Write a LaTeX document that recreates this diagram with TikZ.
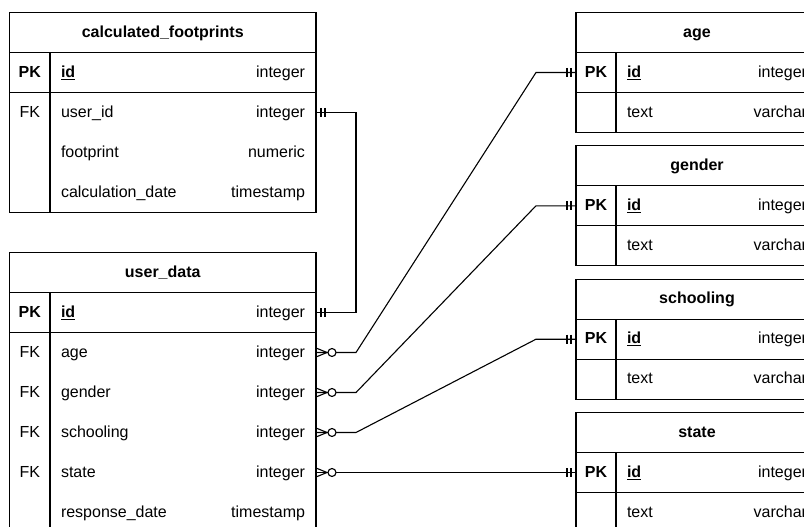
\documentclass[tikz,border=0pt]{standalone}
\usepackage{fontspec}
\setmainfont{Liberation Sans}
\usetikzlibrary{positioning}

\newcommand{\colgap}{\hspace{0pt plus 1filll}}

\tikzset{
  head/.style={draw, minimum height=40pt, inner sep=0pt, outer sep=0pt,
    text height=11pt, text depth=1.5pt, font=\fontsize{16}{18}\selectfont\bfseries},
  lhead/.style={head, minimum width=306.5pt},
  rhead/.style={head, minimum width=242pt},
  key/.style={minimum height=40pt, inner sep=0pt, outer sep=0pt,
    text height=11pt, text depth=1.5pt},
  lkey/.style={key, minimum width=40.5pt},
  rkey/.style={key, minimum width=40pt},
  field/.style={minimum height=40pt, inner ysep=0pt, inner xsep=11pt, outer sep=0pt,
    text height=11pt, text depth=1.5pt, align=left},
  lfield/.style={field, text width=244pt},
  rfield/.style={field, text width=180pt},
  mandone/.pic={\draw (5,-4.5) -- (5,4.5) (9,-4.5) -- (9,4.5);},
  zeromany/.pic={\draw (0,-4.5) -- (11,0) -- (0,4.5); \draw[fill=white] (16,0) circle (4pt);}
}

\begin{document}
\begin{tikzpicture}[x=1pt, y=-1pt, line width=1.1pt, font=\fontsize{16}{18}\selectfont]
  % Sizes
  \pgfmathsetmacro{\lx}{9.5}
  \pgfmathsetmacro{\rx}{576}
  \useasboundingbox (0,0) rectangle (804,527);
  \clip (0,0) rectangle (804,527);

  % calculated_footprints
  \node[lhead, anchor=north west] (cf) at (\lx, 12.5) {calculated\_footprints};
  \node[lkey, below right=0pt of cf.south west] (cf-k1) {\textbf{PK}};
  \node[lfield, right=0pt of cf-k1] (cf-id) {\textbf{\underline{id}}\colgap integer};
  \node[lkey, below=0pt of cf-k1] (cf-k2) {FK};
  \node[lfield, right=0pt of cf-k2] (cf-uid) {user\_id\colgap integer};
  \node[lkey, below=0pt of cf-k2] (cf-k3) {};
  \node[lfield, right=0pt of cf-k3] (cf-fp) {footprint\colgap numeric};
  \node[lkey, below=0pt of cf-k3] (cf-k4) {};
  \node[lfield, right=0pt of cf-k4] (cf-cd) {calculation\_date\colgap timestamp};
  \draw (cf.north west) rectangle (cf-cd.south east);
  \draw (cf-k1.north east) -- (cf-k4.south east);
  \draw (cf-k1.south west) -- (cf-id.south east);

  % user_data
  \node[lhead, anchor=north west] (ud) at (\lx, 252.5) {user\_data};
  \node[lkey, below right=0pt of ud.south west] (ud-k1) {\textbf{PK}};
  \node[lfield, right=0pt of ud-k1] (ud-id) {\textbf{\underline{id}}\colgap integer};
  \node[lkey, below=0pt of ud-k1] (ud-k2) {FK};
  \node[lfield, right=0pt of ud-k2] (ud-age) {age\colgap integer};
  \node[lkey, below=0pt of ud-k2] (ud-k3) {FK};
  \node[lfield, right=0pt of ud-k3] (ud-gen) {gender\colgap integer};
  \node[lkey, below=0pt of ud-k3] (ud-k4) {FK};
  \node[lfield, right=0pt of ud-k4] (ud-sch) {schooling\colgap integer};
  \node[lkey, below=0pt of ud-k4] (ud-k5) {FK};
  \node[lfield, right=0pt of ud-k5] (ud-st) {state\colgap integer};
  \node[lkey, below=0pt of ud-k5] (ud-k6) {};
  \node[lfield, right=0pt of ud-k6] (ud-rd) {response\_date\colgap timestamp};
  \draw (ud.north west) rectangle (ud-rd.south east);
  \draw (ud-k1.north east) -- (ud-k6.south east);
  \draw (ud-k1.south west) -- (ud-id.south east);

  % age
  \node[rhead, anchor=north west] (ag) at (\rx, 12.5) {age};
  \node[rkey, below right=0pt of ag.south west] (ag-k1) {\textbf{PK}};
  \node[rfield, right=0pt of ag-k1] (ag-id) {\textbf{\underline{id}}\colgap integer};
  \node[rkey, below=0pt of ag-k1] (ag-k2) {};
  \node[rfield, right=0pt of ag-k2] (ag-tx) {text\colgap varchar};
  \draw (ag.north west) rectangle (ag-tx.south east);
  \draw (ag-k1.north east) -- (ag-k2.south east);
  \draw (ag-k1.south west) -- (ag-id.south east);

  % gender
  \node[rhead, anchor=north west] (ge) at (\rx, 145.8) {gender};
  \node[rkey, below right=0pt of ge.south west] (ge-k1) {\textbf{PK}};
  \node[rfield, right=0pt of ge-k1] (ge-id) {\textbf{\underline{id}}\colgap integer};
  \node[rkey, below=0pt of ge-k1] (ge-k2) {};
  \node[rfield, right=0pt of ge-k2] (ge-tx) {text\colgap varchar};
  \draw (ge.north west) rectangle (ge-tx.south east);
  \draw (ge-k1.north east) -- (ge-k2.south east);
  \draw (ge-k1.south west) -- (ge-id.south east);

  % schooling
  \node[rhead, anchor=north west] (sc) at (\rx, 279.2) {schooling};
  \node[rkey, below right=0pt of sc.south west] (sc-k1) {\textbf{PK}};
  \node[rfield, right=0pt of sc-k1] (sc-id) {\textbf{\underline{id}}\colgap integer};
  \node[rkey, below=0pt of sc-k1] (sc-k2) {};
  \node[rfield, right=0pt of sc-k2] (sc-tx) {text\colgap varchar};
  \draw (sc.north west) rectangle (sc-tx.south east);
  \draw (sc-k1.north east) -- (sc-k2.south east);
  \draw (sc-k1.south west) -- (sc-id.south east);

  % state
  \node[rhead, anchor=north west] (st) at (\rx, 412.5) {state};
  \node[rkey, below right=0pt of st.south west] (st-k1) {\textbf{PK}};
  \node[rfield, right=0pt of st-k1] (st-id) {\textbf{\underline{id}}\colgap integer};
  \node[rkey, below=0pt of st-k1] (st-k2) {};
  \node[rfield, right=0pt of st-k2] (st-tx) {text\colgap varchar};
  \draw (st.north west) rectangle (st-tx.south east);
  \draw (st-k1.north east) -- (st-k2.south east);
  \draw (st-k1.south west) -- (st-id.south east);

  % links
  \draw (cf-uid.east) -- ++(40,0) |- (ud-id.east);
  \draw (ud-age.east) -- ++(40,0) -- ([xshift=-40pt]ag-k1.west) -- (ag-k1.west);
  \draw (ud-gen.east) -- ++(40,0) -- ([xshift=-40pt]ge-k1.west) -- (ge-k1.west);
  \draw (ud-sch.east) -- ++(40,0) -- ([xshift=-40pt]sc-k1.west) -- (sc-k1.west);
  \draw (ud-st.east) -- (st-k1.west);

  % ends
  \pic at (cf-uid.east) {mandone};
  \pic at (ud-id.east) {mandone};
  \pic at (ud-age.east) {zeromany};
  \pic at (ud-gen.east) {zeromany};
  \pic at (ud-sch.east) {zeromany};
  \pic at (ud-st.east) {zeromany};
  \pic[xscale=-1] at (ag-k1.west) {mandone};
  \pic[xscale=-1] at (ge-k1.west) {mandone};
  \pic[xscale=-1] at (sc-k1.west) {mandone};
  \pic[xscale=-1] at (st-k1.west) {mandone};
\end{tikzpicture}
\end{document}
